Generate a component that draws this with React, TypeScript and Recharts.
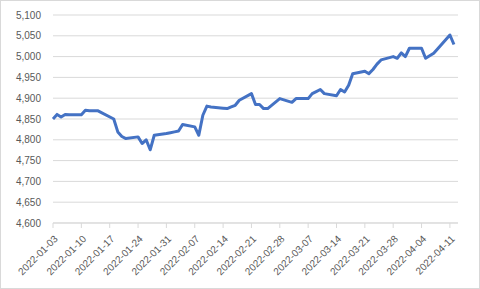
import { CartesianGrid, Line, LineChart, XAxis, YAxis } from 'recharts'

const dates = [
  '2022-01-03', '2022-01-04', '2022-01-05', '2022-01-06', '2022-01-07',
  '2022-01-10', '2022-01-11', '2022-01-12', '2022-01-13', '2022-01-14',
  '2022-01-18', '2022-01-19', '2022-01-20', '2022-01-21',
  '2022-01-24', '2022-01-25', '2022-01-26', '2022-01-27', '2022-01-28',
  '2022-01-31', '2022-02-01', '2022-02-02', '2022-02-03', '2022-02-04',
  '2022-02-07', '2022-02-08', '2022-02-09', '2022-02-10', '2022-02-11',
  '2022-02-14', '2022-02-15', '2022-02-16', '2022-02-17', '2022-02-18',
  '2022-02-21', '2022-02-22', '2022-02-23', '2022-02-24', '2022-02-25',
  '2022-02-28', '2022-03-01', '2022-03-02', '2022-03-03', '2022-03-04',
  '2022-03-07', '2022-03-08', '2022-03-09', '2022-03-10', '2022-03-11',
  '2022-03-14', '2022-03-15', '2022-03-16', '2022-03-17', '2022-03-18',
  '2022-03-21', '2022-03-22', '2022-03-23', '2022-03-24', '2022-03-25',
  '2022-03-28', '2022-03-29', '2022-03-30', '2022-03-31', '2022-04-01',
  '2022-04-04', '2022-04-05', '2022-04-06', '2022-04-07', '2022-04-08',
  '2022-04-11', '2022-04-12',
]

const values = [
  4850, 4861, 4855, 4861, 4860,
  4860, 4871, 4870, 4870, 4870,
  4850, 4819, 4808, 4803,
  4807, 4791, 4800, 4776, 4811,
  4815, 4817, 4819, 4821, 4837,
  4831, 4811, 4859, 4881, 4879,
  4876, 4875, 4879, 4883, 4895,
  4911, 4885, 4885, 4875, 4875,
  4899, 4896, 4893, 4890, 4899,
  4899, 4911, 4916, 4921, 4911,
  4906, 4921, 4915, 4931, 4959,
  4965, 4959, 4969, 4982, 4992,
  5000, 4996, 5009, 5000, 5020,
  5020, 4996, 5002, 5008, 5019,
  5052, 5029,
]

const tickDates = [
  '2022-01-03', '2022-01-10', '2022-01-17', '2022-01-24', '2022-01-31',
  '2022-02-07', '2022-02-14', '2022-02-21', '2022-02-28', '2022-03-07',
  '2022-03-14', '2022-03-21', '2022-03-28', '2022-04-04', '2022-04-11',
]

const yTicks = [4600, 4650, 4700, 4750, 4800, 4850, 4900, 4950, 5000, 5050, 5100]

const START = Date.UTC(2022, 0, 3)
const toDay = (s: string) => {
  const [y, m, d] = s.split('-').map(Number)
  return Math.round((Date.UTC(y, m - 1, d) - START) / 86400000)
}

const data = dates.map((d, i) => ({ day: toDay(d), value: values[i] }))
const xTicks = tickDates.map(toDay)
const labelFor = (day: number) => tickDates[xTicks.indexOf(day)] ?? ''

const font = '"Liberation Sans", Arial, sans-serif'

function DateTick({ x, y, payload }: any) {
  const tx = x + 3
  const ty = y + 7
  return (
    <text
      x={tx}
      y={ty}
      transform={`rotate(-45, ${tx}, ${ty})`}
      textAnchor="end"
      dominantBaseline="central"
      fill="#595959"
      fontSize={10}
      fontFamily={font}
    >
      {labelFor(payload.value)}
    </text>
  )
}

export default function App() {
  return (
    <div style={{ position: 'absolute', top: 0, left: 0, width: 480, height: 289, background: '#fff' }}>
      <LineChart width={480} height={289} data={data} margin={{ top: 15, right: 22, bottom: 0, left: 0 }}>
        <CartesianGrid horizontal vertical={false} stroke="#d9d9d9" />
        <XAxis
          dataKey="day"
          type="number"
          domain={[0, 100]}
          ticks={xTicks}
          interval={0}
          height={66}
          stroke="#d9d9d9"
          tickSize={5}
          tick={<DateTick />}
        />
        <YAxis
          type="number"
          domain={[4600, 5100]}
          ticks={yTicks}
          interval={0}
          width={53}
          axisLine={false}
          tickLine={false}
          tickMargin={6}
          tickFormatter={(v: number) => v.toLocaleString('en-US')}
          tick={{ fill: '#595959', fontSize: 10, fontFamily: font }}
        />
        <Line
          type="linear"
          dataKey="value"
          stroke="#4472c4"
          strokeWidth={3}
          strokeLinejoin="round"
          dot={false}
          isAnimationActive={false}
        />
      </LineChart>
      <div
        style={{
          position: 'absolute',
          top: 0,
          left: 0,
          width: 480,
          height: 289,
          boxSizing: 'border-box',
          border: '1px solid #d9d9d9',
          pointerEvents: 'none',
        }}
      />
    </div>
  )
}
